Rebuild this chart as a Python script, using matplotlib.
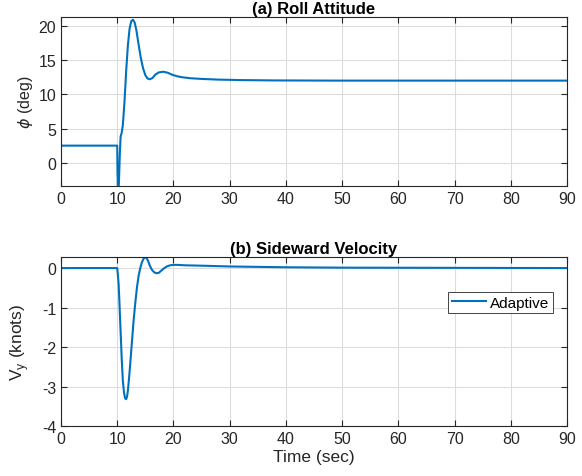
import matplotlib
matplotlib.use("Agg")
import matplotlib.pyplot as plt

plt.rcParams['font.family'] = ['Liberation Sans', 'DejaVu Sans']
plt.rcParams['axes.unicode_minus'] = False
plt.rcParams['mathtext.fontset'] = 'dejavusans'

# Roll attitude (deg)
t_roll = [0, 10, 10.05, 10.15, 10.3, 10.45, 10.6, 10.8, 11.0, 11.3, 11.6, 11.9, 12.2,
          12.5, 12.8, 13.1, 13.4, 13.8, 14.2, 14.6, 15.0, 15.4, 15.8, 16.3, 16.8, 17.4,
          18.2, 19.0, 19.8, 20.6, 21.5, 23, 25, 28, 32, 38, 50, 90]
phi = [2.5, 2.5, -1.5, -4.5, -3, 1, 3.8, 4.4, 5.5, 9, 13.5, 17.2, 19.6,
       20.7, 20.9, 20.5, 19.4, 17.3, 15.3, 13.8, 12.8, 12.3, 12.2, 12.4, 12.9, 13.2,
       13.3, 13.15, 12.85, 12.65, 12.5, 12.35, 12.25, 12.15, 12.08, 12.03, 12.0, 12.0]

# Sideward velocity (knots)
t_vy = [0, 10, 10.1, 10.25, 10.4, 10.6, 10.8, 11.0, 11.2, 11.4, 11.6, 11.75, 11.9, 12.1,
        12.3, 12.6, 12.9, 13.2, 13.5, 13.8, 14.1, 14.4, 14.7, 15.0, 15.2, 15.5, 15.8,
        16.2, 16.6, 17.0, 17.4, 17.8, 18.3, 18.8, 19.4, 20.0, 20.8, 22, 25, 30, 35, 40, 50, 90]
vy = [0, 0, -0.15, -0.4, -0.9, -1.6, -2.3, -2.85, -3.15, -3.3, -3.32, -3.25, -3.1, -2.8,
      -2.45, -1.9, -1.35, -0.9, -0.5, -0.2, 0.0, 0.15, 0.24, 0.27, 0.26, 0.18, 0.06,
      -0.05, -0.11, -0.13, -0.12, -0.07, -0.01, 0.04, 0.07, 0.08, 0.08, 0.07, 0.06, 0.04,
      0.03, 0.02, 0.01, 0.0]

xticks = list(range(0, 91, 10))
roll_yticks = [0, 5, 10, 15, 20]
vy_yticks = [-4, -3, -2, -1, 0]

color = '#0072BD'
fig = plt.figure(figsize=(5.82, 4.77), dpi=100)
ax1 = fig.add_axes([61/582, 1-187/477, 506/582, 169/477])
ax2 = fig.add_axes([61/582, 1-427/477, 506/582, 169/477])

def style(ax):
    ax.grid(True, color='#dcdcdc', linewidth=0.8)
    ax.set_axisbelow(True)
    for s in ax.spines.values():
        s.set_color('#262626')
        s.set_linewidth(0.8)
    ax.tick_params(direction='in', length=4, colors='#262626', labelsize=11.5,
                   top=True, right=True, width=0.8)

ax1.plot(t_roll, phi, color=color, linewidth=1.5)
ax1.set_xlim(0, 90)
ax1.set_ylim(-3.4, 21.3)
ax1.set_xticks(xticks)
ax1.set_yticks(roll_yticks)
ax1.set_ylabel(r'$\phi$ (deg)', fontsize=11.5, color='#262626')
ax1.yaxis.set_label_coords(-0.052, 0.5)
ax1.set_title('(a) Roll Attitude', fontsize=12, fontweight='bold', pad=3)
style(ax1)

ax2.plot(t_vy, vy, color=color, linewidth=1.5, label='Adaptive')
ax2.set_xlim(0, 90)
ax2.set_ylim(-4, 0.28)
ax2.set_xticks(xticks)
ax2.set_yticks(vy_yticks)
ax2.set_ylabel(r'V$_{\mathregular{y}}$ (knots)', fontsize=12.5, color='#262626')
ax2.yaxis.set_label_coords(-0.059, 0.5)
ax2.set_xlabel('Time (sec)', fontsize=12.5, color='#262626', labelpad=2)
ax2.set_title('(b) Sideward Velocity', fontsize=12, fontweight='bold', pad=3)
style(ax2)
leg = ax2.legend(loc='center right', bbox_to_anchor=(0.973, 0.73), fontsize=11,
                 fancybox=False, framealpha=1, edgecolor='#262626',
                 handlelength=2.2, handletextpad=0.3, borderpad=0.25, borderaxespad=0)
leg.get_frame().set_linewidth(0.6)

fig.savefig('out.png', dpi=100)
